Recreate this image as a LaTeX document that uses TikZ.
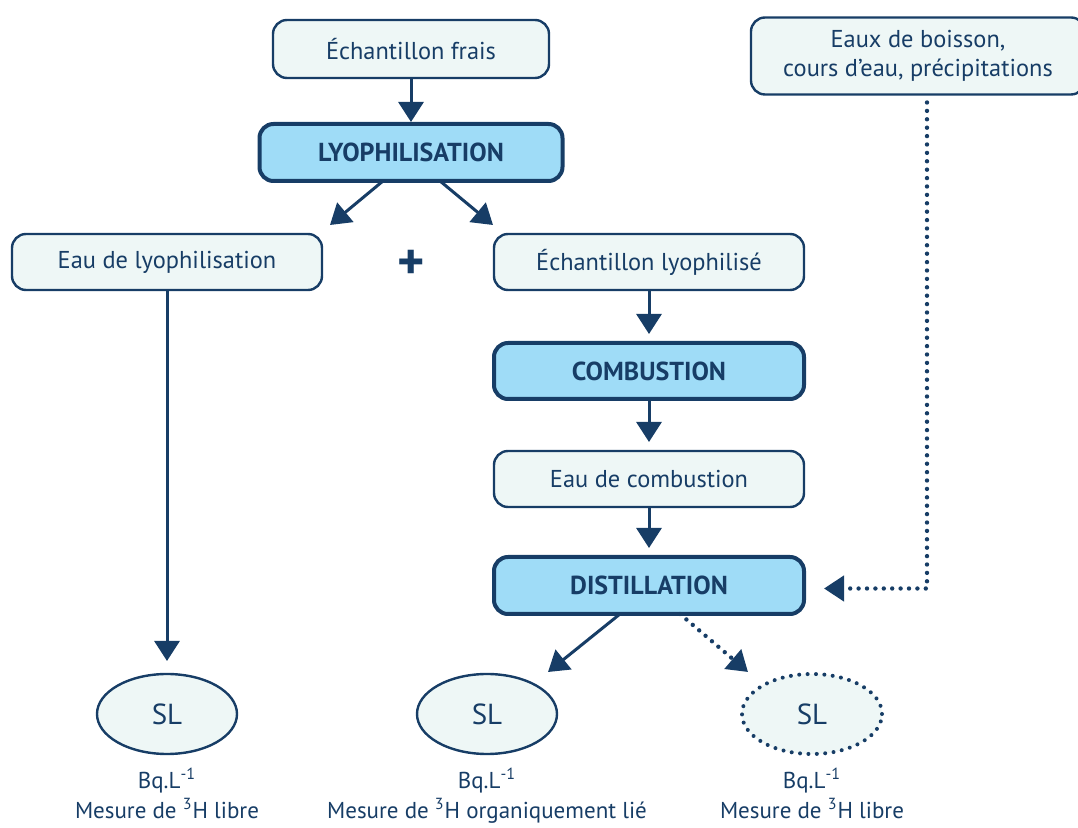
\documentclass[tikz,border=0pt]{standalone}
\usepackage{fontspec}
\setmainfont{PT Sans}
\usepackage{xcolor}
\definecolor{navy}{HTML}{173D66}
\definecolor{pale}{HTML}{EEF7F6}
\definecolor{sky}{HTML}{9FDCF7}
\usepackage{tikz}
\usetikzlibrary{shapes,arrows.meta}
\usetikzlibrary{positioning}

\begin{document}
\begin{tikzpicture}[font=\fontsize{12.2}{14.5}\selectfont, text=navy, draw=navy]
		\tikzstyle{etape}=[rectangle, rounded corners=7pt, draw=navy, fill=pale, line width=1.2pt, outer sep=0pt, minimum width=155pt, minimum height=28pt]
		\tikzstyle{operation}=[etape, fill=sky, line width=2pt, font=\fontsize{13}{15}\selectfont\bfseries]
		\tikzstyle{flacon}=[ellipse, draw=navy, fill=pale, line width=1.2pt, outer sep=0pt, minimum width=70pt, minimum height=40pt, font=\fontsize{14.5}{16}\selectfont]
		\tikzstyle{mesure}=[align=center, font=\fontsize{11.5}{15}\selectfont]
		\tikzstyle{fleche}=[-{Triangle[length=10pt,width=12.5pt]}, line width=1.5pt, draw=navy]
		\tikzstyle{pointille}=[fleche, line width=2.2pt, line cap=round, dash pattern=on 0pt off 4.2pt]
		\useasboundingbox (0,0) rectangle (539pt,-414pt);
		\node[etape, minimum width=138pt, minimum height=29pt] (frais) at (205.5pt,-24.5pt) {Échantillon frais};
		\node[operation, minimum width=151.5pt, minimum height=28.5pt, below=23pt of frais] (lyo) {LYOPHILISATION};
		\node[etape, below=26.5pt of lyo, xshift=-122pt] (eaulyo) {Eau de lyophilisation};
		\node[etape, below=26.5pt of lyo, xshift=119pt] (echlyo) {Échantillon lyophilisé};
		\node[font=\fontsize{26}{26}\selectfont\bfseries] (plus) at ([yshift=-1.5pt]lyo |- eaulyo) {+};
		\node[operation, below=26.5pt of echlyo] (comb) {COMBUSTION};
		\node[etape, below=26pt of comb] (eaucomb) {Eau de combustion};
		\node[operation, below=25pt of eaucomb, minimum height=28.5pt] (dist) {DISTILLATION};
		\node[etape, minimum width=167pt, minimum height=38.5pt, align=center, right=101pt of frais, yshift=-3.5pt] (eaux) {Eaux de boisson,\\cours d’eau, précipitations};
		\node[flacon, below=30pt of dist, xshift=-81pt] (sl2) {SL};
		\node[flacon, below=30pt of dist, xshift=81.5pt, line width=2pt, line cap=round, dash pattern=on 0pt off 4.2pt] (sl3) {SL};
		\node[flacon] (sl1) at (eaulyo |- sl2) {SL};
		\node[mesure, below=3.5pt of sl1] (m1) {Bq.L\textsuperscript{-1}\\Mesure de \textsuperscript{3}H libre};
		\node[mesure, below=3.5pt of sl2] (m2) {Bq.L\textsuperscript{-1}\\Mesure de \textsuperscript{3}H organiquement lié};
		\node[mesure, below=3.5pt of sl3] (m3) {Bq.L\textsuperscript{-1}\\Mesure de \textsuperscript{3}H libre};
		\draw[fleche, shorten >=1pt] (frais) -- (lyo);
		\draw[fleche] ([xshift=-14pt]lyo.south) -- ([xshift=81.5pt,yshift=4.5pt]eaulyo.north);
		\draw[fleche] ([xshift=14.5pt]lyo.south) -- ([xshift=-78pt,yshift=4.5pt]echlyo.north);
		\draw[fleche, shorten >=6.5pt] (eaulyo) -- (sl1);
		\draw[fleche, shorten >=4.5pt] (echlyo) -- (comb);
		\draw[fleche, shorten >=4.5pt] (comb) -- (eaucomb);
		\draw[fleche, shorten >=4.5pt] (eaucomb) -- (dist);
		\draw[fleche] ([xshift=-14.5pt]dist.south) -- ([xshift=30.5pt,yshift=1pt]sl2.north);
		\draw[pointille] ([xshift=15.5pt]dist.south) -- ([xshift=-32pt,yshift=1pt]sl3.north);
		\draw[pointille, shorten >=10pt] ([xshift=4.5pt,yshift=-4pt]eaux.south) |- ([yshift=-1.5pt]dist.east);
	\end{tikzpicture}
\end{document}
